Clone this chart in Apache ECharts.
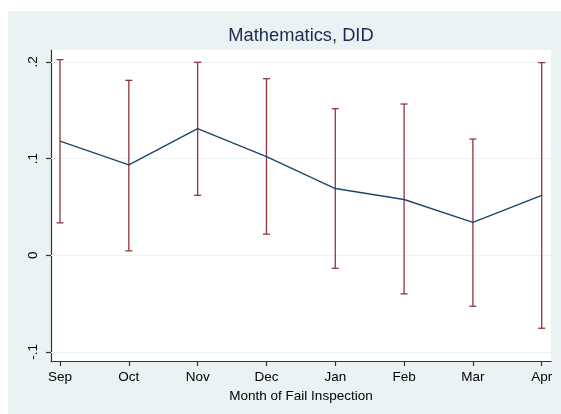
<!DOCTYPE html>
<html>
<head>
<meta charset="utf-8">
<script src="https://cdn.jsdelivr.net/npm/echarts@6/dist/echarts.min.js"></script>
<style>
  html, body { margin: 0; padding: 0; background: #ffffff; }
  #chart { width: 561px; height: 414px; }
</style>
</head>
<body>
<div id="chart"></div>
<script>
// Monthly DID estimates with confidence intervals
const months = ['Sep', 'Oct', 'Nov', 'Dec', 'Jan', 'Feb', 'Mar', 'Apr'];
const estimate = [0.118, 0.0935, 0.131, 0.102, 0.069, 0.0577, 0.034, 0.062];
const ciLow = [0.0335, 0.0045, 0.062, 0.0218, -0.0135, -0.040, -0.0528, -0.0756];
const ciHigh = [0.2024, 0.181, 0.1997, 0.1827, 0.1516, 0.1565, 0.1202, 0.1993];
const yTicks = [-0.1, 0, 0.1, 0.2];
const yTickLabels = ['-.1', '0', '.1', '.2'];

const FONT = 'Liberation Sans, Arial, Helvetica, sans-serif';
const monthIdx = months.map((_, i) => i);

const chart = echarts.init(document.getElementById('chart'), null, { renderer: 'canvas' });

chart.setOption({
  animation: false,
  backgroundColor: '#ffffff',
  graphic: [
    {
      type: 'rect',
      z: -10,
      shape: { x: 8, y: 11, width: 553, height: 403 },
      style: { fill: '#eaf2f3' }
    },
    {
      // title centred over the plot region
      type: 'text',
      x: 301,
      y: 36,
      style: {
        text: 'Mathematics, DID',
        fontFamily: FONT, fontSize: 18.3, fill: '#1c2b4f',
        align: 'center', verticalAlign: 'middle'
      }
    }
  ],
  grid: {
    left: 51, top: 50, right: 10, bottom: 53,
    show: true, backgroundColor: '#ffffff', borderWidth: 0
  },
  xAxis: {
    type: 'value',
    min: -0.131,
    max: 7.135,
    name: 'Month of Fail Inspection',
    nameLocation: 'middle',
    nameGap: 21,
    nameTextStyle: { fontFamily: FONT, fontSize: 13.5, color: '#000' },
    axisLine: { show: true, onZero: false, lineStyle: { color: '#333', width: 1.2 } },
    axisTick: { show: true, length: 5, customValues: monthIdx, lineStyle: { color: '#333', width: 1.2 } },
    axisLabel: {
      customValues: monthIdx,
      margin: 9,
      fontFamily: FONT, fontSize: 13.5, color: '#000',
      formatter: v => months[Math.round(v)]
    },
    splitLine: { show: false }
  },
  yAxis: {
    type: 'value',
    min: -0.1095,
    max: 0.2124,
    axisLine: { show: true, onZero: false, lineStyle: { color: '#333', width: 1.2 } },
    axisTick: { show: true, length: 5, customValues: yTicks, lineStyle: { color: '#333', width: 1.2 } },
    axisLabel: {
      customValues: yTicks,
      rotate: 90,
      margin: 11,
      fontFamily: FONT, fontSize: 13.5, color: '#000',
      formatter: v => {
        const i = yTicks.findIndex(t => Math.abs(t - v) < 1e-9);
        return i >= 0 ? yTickLabels[i] : '';
      }
    },
    splitLine: { show: false }
  },
  series: [
    {
      // confidence interval whiskers with caps
      type: 'custom',
      z: 3,
      data: monthIdx.map(i => [i, ciLow[i], ciHigh[i]]),
      renderItem: (params, api) => {
        const x = api.value(0);
        const lo = api.coord([x, api.value(1)]);
        const hi = api.coord([x, api.value(2)]);
        const cap = 3.5;
        const style = { stroke: '#90353b', lineWidth: 1.3, fill: 'none' };
        return {
          type: 'group',
          children: [
            { type: 'line', shape: { x1: lo[0], y1: lo[1], x2: hi[0], y2: hi[1] }, style },
            { type: 'line', shape: { x1: lo[0] - cap, y1: lo[1], x2: lo[0] + cap, y2: lo[1] }, style },
            { type: 'line', shape: { x1: hi[0] - cap, y1: hi[1], x2: hi[0] + cap, y2: hi[1] }, style }
          ]
        };
      }
    },
    {
      type: 'line',
      z: 4,
      data: monthIdx.map(i => [i, estimate[i]]),
      symbol: 'none',
      lineStyle: { color: '#1a476f', width: 1.4 },
      markLine: {
        silent: true,
        symbol: 'none',
        label: { show: false },
        z: 1,
        lineStyle: { color: '#eaf2f3', width: 1, type: 'solid' },
        data: yTicks.map(t => ({ yAxis: t }))
      }
    }
  ]
});
</script>
</body>
</html>
